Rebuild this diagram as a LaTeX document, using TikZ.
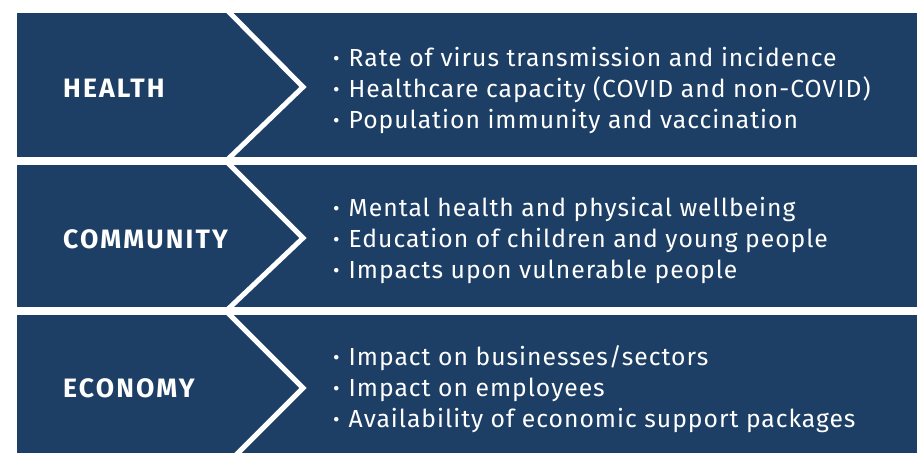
\documentclass[tikz,border=0pt]{standalone}
\usepackage{fontspec}
\setmainfont{Fira Sans}
\definecolor{band}{RGB}{29,63,101}
\newcommand{\bul}{{\fontsize{20}{20}\selectfont\raisebox{0.5pt}{•}}\hspace{9pt}}
\tikzset{
  bandbox/.style={fill=band},
  chevline/.style={draw=white, line width=5pt, line join=miter},
  catlabel/.style={anchor=west, text=white, inner sep=0pt, font=\fontsize{26.6}{26.6}\selectfont\bfseries\addfontfeatures{LetterSpace=8}},
  itemlist/.style={anchor=west, text=white, inner sep=0pt, align=left, font=\fontsize{24.7}{31}\selectfont\addfontfeatures{LetterSpace=4}}
}
\begin{document}
\begin{tikzpicture}[x=1pt,y=-1pt]
\useasboundingbox (0,0) rectangle (918,453);
\fill[white] (0,0) rectangle (918,453);
% bands
\fill[bandbox] (17,13) rectangle (917,157);
\fill[bandbox] (17,165) rectangle (917,307);
\fill[bandbox] (17,315) rectangle (917,453);
% chevrons
\draw[chevline] (225,8) -- (303,87) -- (225,162);
\draw[chevline] (225,160) -- (303,238) -- (225,312);
\draw[chevline] (225,310) -- (303,388) -- (225,466);
\useasboundingbox (0,0) rectangle (918,453);
% labels
\node[catlabel] (health) at (63,88) {HEALTH};
\node[catlabel] (community) at (63,239) {COMMUNITY};
\node[catlabel] (economy) at (63,388) {ECONOMY};
% items
\node[itemlist] (healthitems) at (333,90) {\bul Rate of virus transmission and incidence\\ \bul Healthcare capacity (COVID and non-COVID)\\ \bul Population immunity and vaccination};
\node[itemlist] (communityitems) at (333,240) {\bul Mental health and physical wellbeing\\ \bul Education of children and young people\\ \bul Impacts upon vulnerable people};
\node[itemlist] (economyitems) at (333,389) {\bul Impact on businesses/sectors\\ \bul Impact on employees\\ \bul Availability of economic support packages};
\end{tikzpicture}
\end{document}
